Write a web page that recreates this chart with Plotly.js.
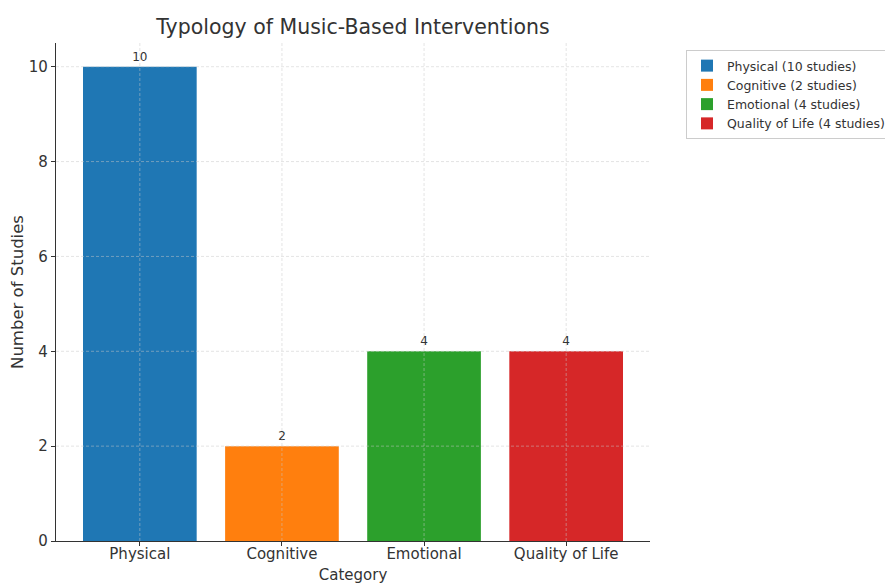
<!DOCTYPE html>
<html>
<head>
<meta charset="utf-8">
<script src="https://cdn.plot.ly/plotly-3.0.1.min.js"></script>
<style>html,body{margin:0;padding:0;background:#fff;}#chart{width:885px;height:584px;}</style>
</head>
<body>
<div id="chart"></div>
<script>
const categories = ["Physical", "Cognitive", "Emotional", "Quality of Life"];
const studies = [10, 2, 4, 4];
const legendLabels = ["Physical (10 studies)", "Cognitive (2 studies)", "Emotional (4 studies)", "Quality of Life (4 studies)"];
const colors = ["#1f77b4", "#ff7f0e", "#2ca02c", "#d62728"];
const yTicks = [0, 2, 4, 6, 8, 10];

const traces = categories.map((c, i) => ({
  type: "bar",
  x: [c],
  y: [studies[i]],
  name: legendLabels[i],
  marker: {color: colors[i]},
  width: 0.8,
  text: [String(studies[i])],
  textposition: "outside",
  textfont: {family: "DejaVu Sans", size: 12, color: "#333"},
  cliponaxis: false,
  hoverinfo: "skip"
}));

const gridColor = "rgba(200,200,200,0.7)";
const shapes = [];
yTicks.slice(1).forEach(v => shapes.push({type: "line", xref: "paper", yref: "y", x0: 0, x1: 1, y0: v, y1: v, layer: "above", line: {color: gridColor, width: 0.7, dash: "3px,2px"}}));
categories.forEach(c => shapes.push({type: "line", xref: "x", yref: "paper", x0: c, x1: c, y0: 0, y1: 1, layer: "above", line: {color: gridColor, width: 0.7, dash: "3px,2px"}}));

const layout = {
  width: 885, height: 584,
  margin: {l: 56, r: 235, t: 43, b: 43},
  paper_bgcolor: "#fff", plot_bgcolor: "#fff",
  font: {family: "DejaVu Sans", color: "#333"},
  title: {text: "Typology of Music-Based Interventions", font: {size: 20.5, color: "#333"}, x: 0.5, xref: "paper", y: 1 - 27/584, yref: "container", xanchor: "center", yanchor: "middle"},
  barmode: "overlay",
  showlegend: true,
  legend: {xref: "container", yref: "container", x: 686/885, y: 1 - 50/584, xanchor: "left", yanchor: "top", bordercolor: "#ccc", borderwidth: 1, font: {size: 12.5, color: "#333"}, bgcolor: "#fff", tracegroupgap: 0},
  xaxis: {
    type: "category", categoryorder: "array", categoryarray: categories,
    range: [-0.59, 3.59], showgrid: false, zeroline: false,
    showline: true, linecolor: "#333", linewidth: 1.2,
    ticks: "outside", ticklen: 4, tickcolor: "#333",
    tickfont: {size: 15, color: "#333"},
    ticklabelstandoff: -5,
    title: {text: "Category", font: {size: 15, color: "#333"}, standoff: 8},
    layer: "above traces"
  },
  yaxis: {
    range: [0, 10.5], tickvals: yTicks, showgrid: false, zeroline: false,
    showline: true, linecolor: "#333", linewidth: 1.2,
    ticks: "outside", ticklen: 4, tickcolor: "#333",
    tickfont: {size: 15, color: "#333"},
    title: {text: "Number of Studies", font: {size: 16.5, color: "#333"}, standoff: 1},
    layer: "above traces"
  },
  shapes: shapes
};

Plotly.newPlot("chart", traces, layout, {displayModeBar: false, staticPlot: true});
</script>
</body>
</html>
